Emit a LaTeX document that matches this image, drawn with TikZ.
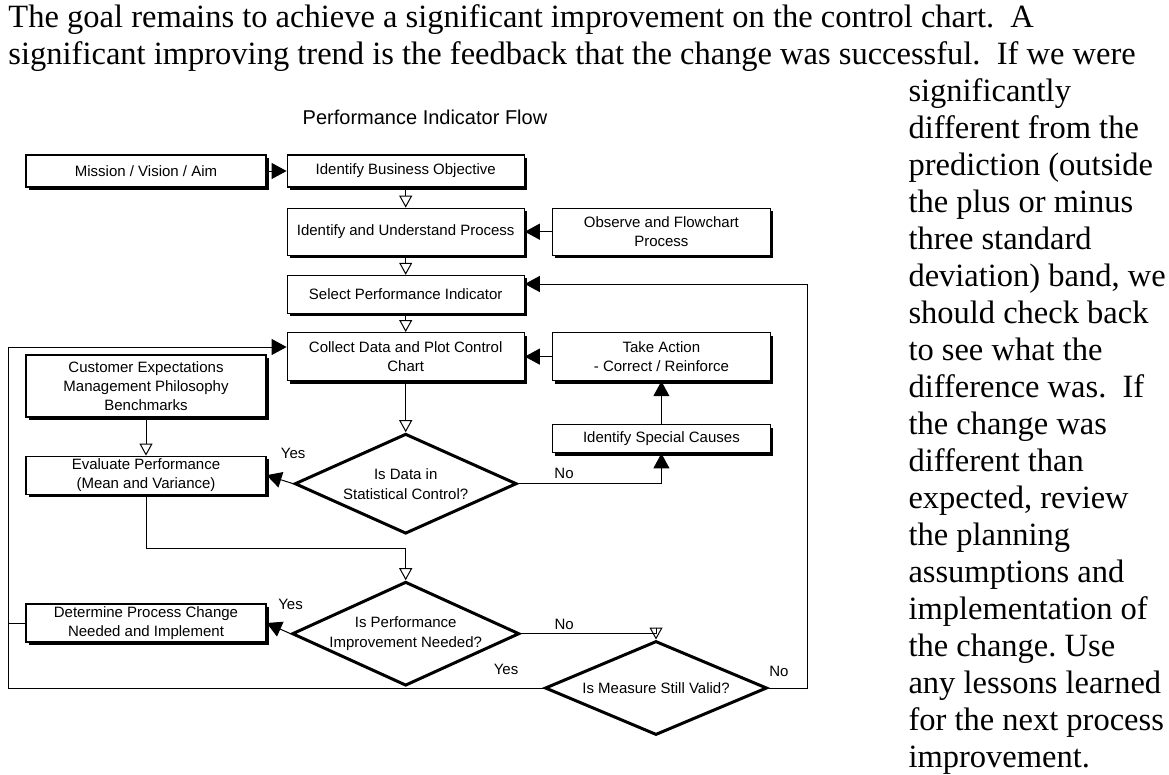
\documentclass[tikz,border=0pt]{standalone}
\usepackage{fontspec}
\setmainfont{Liberation Serif}
\newfontfamily\chartfont{Liberation Sans}
\usetikzlibrary{arrows.meta,positioning,shapes.geometric,shadows}
\frenchspacing

\tikzset{
  box/.style={draw, line width=1.2pt, fill=white, inner sep=2pt, align=center,
    font=\chartfont\fontsize{15}{19}\selectfont,
    drop shadow={shadow xshift=3pt, shadow yshift=-3pt, fill=black, opacity=1}},
  wide/.style={box, minimum width=240pt},
  mid/.style={box, minimum width=237pt},
  side/.style={box, minimum width=218pt},
  decision/.style={diamond, draw, line width=3pt, fill=white, aspect=2.2, inner sep=0pt,
    minimum width=222pt, minimum height=100pt, align=center,
    font=\chartfont\fontsize{15}{20}\selectfont},
  lbl/.style={inner sep=0pt, font=\chartfont\fontsize{15}{18}\selectfont},
  para/.style={inner sep=0pt, align=left, font=\fontsize{32.5}{37}\selectfont},
  openarrow/.style={-{Triangle[open, length=12pt, width=13pt]}},
}

\begin{document}
\begin{tikzpicture}[x=1pt, y=-1pt, >={Triangle[length=15pt, width=16pt]}, line width=1pt]
    \fill[white] (0,0) rectangle (1169,774);
    \useasboundingbox (0,0) rectangle (1169,774);

    % page text (anchored on the baseline of the last line)
    \node[para, anchor=base west] (intro) at (8,64)
      {The goal remains to achieve a significant improvement on the control chart.\ \ A\\
       significant improving trend is the feedback that the change was successful.\ \ If we were};
    \node[para, anchor=base west] (aside) at (908,767)
      {significantly\\ different from the\\ prediction (outside\\ the plus or minus\\
       three standard\\ deviation) band, we\\ should check back\\ to see what the\\
       difference was.\ \ If\\ the change was\\ different than\\ expected, review\\
       the planning\\ assumptions and\\ implementation of\\ the change. Use\\
       any lessons learned\\ for the next process\\ improvement.};

    \node[font=\chartfont\fontsize{20}{22}\selectfont] (title) at (425,117) {Performance Indicator Flow};

    % boxes
    \node[wide, minimum height=32pt] (mission) at (146,171) {Mission / Vision / Aim};
    \node[mid, minimum height=32pt] (business) [right=20pt of mission] {Identify Business Objective};
    \node[mid, minimum height=47pt] (understand) [below=20pt of business] {Identify and Understand Process};
    \node[side, minimum height=47pt] (observe) [right=27pt of understand] {Observe and Flowchart\\ Process};
    \node[mid, minimum height=38pt] (select) [below=19pt of understand] {Select Performance Indicator};
    \node[mid, minimum height=48pt] (collect) [below=18pt of select] {Collect Data and Plot Control\\ Chart};
    \node[side, minimum height=48pt] (action) [right=27pt of collect] {Take Action\\ - Correct / Reinforce};
    \node[side, minimum height=28pt] (special) [below=43pt of action] {Identify Special Causes};
    \node[wide, minimum height=62pt] (customer) at (146,386) {Customer Expectations\\ Management Philosophy\\ Benchmarks};
    \node[wide, minimum height=38pt] (evaluate) [below=38pt of customer] {Evaluate Performance\\ (Mean and Variance)};
    \node[wide, minimum height=38pt] (determine) at (146,623) {Determine Process Change\\ Needed and Implement};

    % decisions
    \node[decision] (stats) [below=51pt of collect] {Is Data in\\ Statistical Control?};
    \node[decision, minimum height=104pt] (perf) [below=45pt of stats] {Is Performance\\ Improvement Needed?};
    \node[decision, minimum height=94pt] (measure) at (656,688) {Is Measure Still Valid?};

    \coordinate (lloop) at (8,347);
    \coordinate (rloop) at (807,284);

    \draw[->] (mission) -- (business);
    \draw[openarrow] (business) -- (understand);
    \draw[->] (observe) -- (understand);
    \draw[openarrow] (understand) -- (select);
    \draw[openarrow] (select) -- (collect);
    \draw[openarrow] (collect) -- (stats);
    \draw[->] (action) -- (collect);
    \draw[->] (special) -- (action);
    \draw[openarrow] (customer) -- (evaluate);
    \draw[->] (stats.west) -- (evaluate.east) node[lbl, pos=0, above=25pt] {Yes};
    \draw[->] (stats.east) -| (special.south) node[lbl, pos=0.16, above=5pt] {No};
    \draw[openarrow] (evaluate.south) -- ++(0,54) -| (perf.north);
    \draw[->] (perf.west) -- (determine.east) node[lbl, pos=0, above=24pt] {Yes};
    \draw[openarrow] (perf.east) -| (measure.north) node[lbl, pos=0.16, above=4pt] {No};
    \draw[->] (measure.east) -| (rloop) node[lbl, pos=0.135, above=11pt] {No}
      -- (rloop -| select.east);
    \draw[->] (measure.west) -| (lloop) node[lbl, pos=0.035, above=13pt] {Yes}
      -- (lloop -| collect.west);
    \draw (determine.west) -- (determine.west -| lloop);
\end{tikzpicture}
\end{document}
